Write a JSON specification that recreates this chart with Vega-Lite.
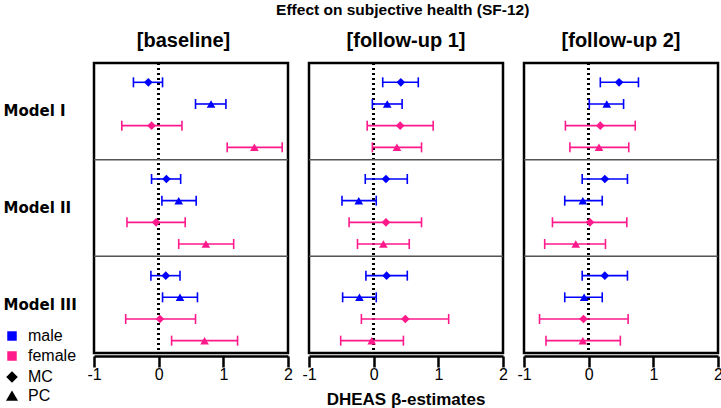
{
  "$schema": "https://vega.github.io/schema/vega-lite/v6.json",
  "padding": {"left": 3, "top": 2, "right": 2, "bottom": 0},
  "background": "white",
  "title": {
    "text": "Effect on subjective health (SF-12)",
    "font": "Liberation Sans",
    "fontSize": 15.5,
    "fontWeight": "bold",
    "color": "black",
    "anchor": "middle",
    "dx": 40,
    "offset": 13
  },
  "data": {
    "values": [
      {"time": "[baseline]", "model": "Model I", "series": "male MC", "sex": "male", "type": "MC", "est": -0.16, "lo": -0.39, "hi": 0.06},
      {"time": "[baseline]", "model": "Model I", "series": "male PC", "sex": "male", "type": "PC", "est": 0.81, "lo": 0.57, "hi": 1.04},
      {"time": "[baseline]", "model": "Model I", "series": "female MC", "sex": "female", "type": "MC", "est": -0.11, "lo": -0.57, "hi": 0.36},
      {"time": "[baseline]", "model": "Model I", "series": "female PC", "sex": "female", "type": "PC", "est": 1.48, "lo": 1.06, "hi": 1.91},
      {"time": "[baseline]", "model": "Model II", "series": "male MC", "sex": "male", "type": "MC", "est": 0.12, "lo": -0.11, "hi": 0.34},
      {"time": "[baseline]", "model": "Model II", "series": "male PC", "sex": "male", "type": "PC", "est": 0.31, "lo": 0.05, "hi": 0.58},
      {"time": "[baseline]", "model": "Model II", "series": "female MC", "sex": "female", "type": "MC", "est": -0.04, "lo": -0.49, "hi": 0.41},
      {"time": "[baseline]", "model": "Model II", "series": "female PC", "sex": "female", "type": "PC", "est": 0.73, "lo": 0.31, "hi": 1.16},
      {"time": "[baseline]", "model": "Model III", "series": "male MC", "sex": "male", "type": "MC", "est": 0.11, "lo": -0.12, "hi": 0.33},
      {"time": "[baseline]", "model": "Model III", "series": "male PC", "sex": "male", "type": "PC", "est": 0.33, "lo": 0.06, "hi": 0.6},
      {"time": "[baseline]", "model": "Model III", "series": "female MC", "sex": "female", "type": "MC", "est": 0.02, "lo": -0.51, "hi": 0.57},
      {"time": "[baseline]", "model": "Model III", "series": "female PC", "sex": "female", "type": "PC", "est": 0.71, "lo": 0.2, "hi": 1.22},

      {"time": "[follow-up 1]", "model": "Model I", "series": "male MC", "sex": "male", "type": "MC", "est": 0.42, "lo": 0.14, "hi": 0.69},
      {"time": "[follow-up 1]", "model": "Model I", "series": "male PC", "sex": "male", "type": "PC", "est": 0.21, "lo": -0.02, "hi": 0.44},
      {"time": "[follow-up 1]", "model": "Model I", "series": "female MC", "sex": "female", "type": "MC", "est": 0.41, "lo": -0.1, "hi": 0.92},
      {"time": "[follow-up 1]", "model": "Model I", "series": "female PC", "sex": "female", "type": "PC", "est": 0.36, "lo": -0.02, "hi": 0.74},
      {"time": "[follow-up 1]", "model": "Model II", "series": "male MC", "sex": "male", "type": "MC", "est": 0.19, "lo": -0.13, "hi": 0.52},
      {"time": "[follow-up 1]", "model": "Model II", "series": "male PC", "sex": "male", "type": "PC", "est": -0.23, "lo": -0.49, "hi": 0.04},
      {"time": "[follow-up 1]", "model": "Model II", "series": "female MC", "sex": "female", "type": "MC", "est": 0.19, "lo": -0.38, "hi": 0.74},
      {"time": "[follow-up 1]", "model": "Model II", "series": "female PC", "sex": "female", "type": "PC", "est": 0.15, "lo": -0.25, "hi": 0.55},
      {"time": "[follow-up 1]", "model": "Model III", "series": "male MC", "sex": "male", "type": "MC", "est": 0.2, "lo": -0.12, "hi": 0.52},
      {"time": "[follow-up 1]", "model": "Model III", "series": "male PC", "sex": "male", "type": "PC", "est": -0.22, "lo": -0.48, "hi": 0.04},
      {"time": "[follow-up 1]", "model": "Model III", "series": "female MC", "sex": "female", "type": "MC", "est": 0.49, "lo": -0.19, "hi": 1.16},
      {"time": "[follow-up 1]", "model": "Model III", "series": "female PC", "sex": "female", "type": "PC", "est": -0.03, "lo": -0.51, "hi": 0.46},

      {"time": "[follow-up 2]", "model": "Model I", "series": "male MC", "sex": "male", "type": "MC", "est": 0.47, "lo": 0.18, "hi": 0.77},
      {"time": "[follow-up 2]", "model": "Model I", "series": "male PC", "sex": "male", "type": "PC", "est": 0.28, "lo": 0.01, "hi": 0.54},
      {"time": "[follow-up 2]", "model": "Model I", "series": "female MC", "sex": "female", "type": "MC", "est": 0.18, "lo": -0.36, "hi": 0.72},
      {"time": "[follow-up 2]", "model": "Model I", "series": "female PC", "sex": "female", "type": "PC", "est": 0.16, "lo": -0.29, "hi": 0.62},
      {"time": "[follow-up 2]", "model": "Model II", "series": "male MC", "sex": "male", "type": "MC", "est": 0.25, "lo": -0.1, "hi": 0.6},
      {"time": "[follow-up 2]", "model": "Model II", "series": "male PC", "sex": "male", "type": "PC", "est": -0.09, "lo": -0.37, "hi": 0.21},
      {"time": "[follow-up 2]", "model": "Model II", "series": "female MC", "sex": "female", "type": "MC", "est": 0.02, "lo": -0.56, "hi": 0.59},
      {"time": "[follow-up 2]", "model": "Model II", "series": "female PC", "sex": "female", "type": "PC", "est": -0.2, "lo": -0.68, "hi": 0.26},
      {"time": "[follow-up 2]", "model": "Model III", "series": "male MC", "sex": "male", "type": "MC", "est": 0.25, "lo": -0.1, "hi": 0.6},
      {"time": "[follow-up 2]", "model": "Model III", "series": "male PC", "sex": "male", "type": "PC", "est": -0.07, "lo": -0.37, "hi": 0.21},
      {"time": "[follow-up 2]", "model": "Model III", "series": "female MC", "sex": "female", "type": "MC", "est": -0.08, "lo": -0.76, "hi": 0.61},
      {"time": "[follow-up 2]", "model": "Model III", "series": "female PC", "sex": "female", "type": "PC", "est": -0.09, "lo": -0.66, "hi": 0.49}
    ]
  },
  "facet": {
    "column": {
      "field": "time",
      "type": "nominal",
      "sort": ["[baseline]", "[follow-up 1]", "[follow-up 2]"],
      "title": "DHEAS β-estimates",
      "header": {
        "labelOrient": "top",
        "titleOrient": "bottom",
        "labelExpr": "(datum.label) === '[baseline]' ? '[baseline]\u2800' : (datum.label)",
        "labelFont": "Liberation Sans",
        "labelFontSize": 20,
        "labelFontWeight": "bold",
        "labelColor": "black",
        "labelPadding": 9,
        "titleFont": "Liberation Sans",
        "titleFontSize": 17,
        "titleFontWeight": "bold",
        "titleColor": "black",
        "titlePadding": 0
      }
    }
  },
  "spacing": {"column": 17},
  "spec": {
    "width": 194,
    "height": 290,
    "layer": [
      {
        "mark": {"type": "rule", "color": "black", "strokeWidth": 2, "strokeDash": [2, 3]},
        "encoding": {"x": {"datum": 0, "type": "quantitative"}}
      },
      {
        "transform": [{"filter": "datum.model !== 'Model I'"}],
        "mark": {"type": "rule", "color": "#555555", "strokeWidth": 1},
        "encoding": {
          "y": {"field": "model", "type": "nominal", "bandPosition": 0, "sort": ["Model I", "Model II", "Model III"]}
        }
      },
      {
        "mark": {"type": "rule", "strokeWidth": 1.6},
        "encoding": {
          "x": {"field": "lo", "type": "quantitative"},
          "x2": {"field": "hi"},
          "y": {"field": "model", "type": "nominal", "sort": ["Model I", "Model II", "Model III"]},
          "yOffset": {"field": "series", "type": "nominal", "sort": ["male MC", "male PC", "female MC", "female PC"]},
          "stroke": {"field": "sex", "type": "nominal", "scale": {"range": ["#ff1a8c", "#0000ff"]}, "legend": null}
        }
      },
      {
        "mark": {"type": "tick", "orient": "vertical", "size": 10, "thickness": 1.6, "opacity": 1},
        "encoding": {
          "x": {"field": "lo", "type": "quantitative"},
          "y": {"field": "model", "type": "nominal", "sort": ["Model I", "Model II", "Model III"]},
          "yOffset": {"field": "series", "type": "nominal", "sort": ["male MC", "male PC", "female MC", "female PC"]},
          "fill": {"field": "sex", "type": "nominal", "scale": {"range": ["#ff1a8c", "#0000ff"]}, "legend": null}
        }
      },
      {
        "mark": {"type": "tick", "orient": "vertical", "size": 10, "thickness": 1.6, "opacity": 1},
        "encoding": {
          "x": {"field": "hi", "type": "quantitative"},
          "y": {"field": "model", "type": "nominal", "sort": ["Model I", "Model II", "Model III"]},
          "yOffset": {"field": "series", "type": "nominal", "sort": ["male MC", "male PC", "female MC", "female PC"]},
          "fill": {"field": "sex", "type": "nominal", "legend": null}
        }
      },
      {
        "mark": {"type": "point", "filled": true, "size": 75, "opacity": 1},
        "encoding": {
          "x": {
            "field": "est",
            "type": "quantitative",
            "scale": {"domain": [-1, 2], "nice": false, "zero": false},
            "axis": {
              "title": null,
              "values": [-1, -0.5, 0, 0.5, 1, 1.5, 2],
              "labelExpr": "datum.value % 1 === 0 ? (datum.value < 0 ? '-' + abs(datum.value) : '' + datum.value) : ''",
              "tickSize": {"condition": {"test": "datum.value % 1 === 0", "value": 11}, "value": 6},
              "tickWidth": 2.5,
              "tickColor": "black",
              "domainColor": "black",
              "domainWidth": 2.5,
              "labelFont": "Liberation Sans",
              "labelFontSize": 16,
              "labelColor": "black",
              "labelPadding": -1,
              "labelFlush": false,
              "labelOverlap": false,
              "grid": false
            }
          },
          "y": {
            "field": "model",
            "type": "nominal",
            "sort": ["Model I", "Model II", "Model III"],
            "scale": {"paddingInner": 0, "paddingOuter": 0},
            "axis": {
              "title": null,
              "ticks": false,
              "domain": false,
              "grid": false,
              "labelAlign": "left",
              "labelPadding": 89,
              "labelFont": "DejaVu Sans",
              "labelFontSize": 15,
              "labelFontWeight": "bold",
              "labelColor": "black"
            }
          },
          "yOffset": {
            "field": "series",
            "type": "nominal",
            "sort": ["male MC", "male PC", "female MC", "female PC"],
            "scale": {"paddingInner": 0, "paddingOuter": 0.23, "align": 0.85}
          },
          "color": {
            "field": "sex",
            "type": "nominal",
            "scale": {"domain": ["male", "female"], "range": ["#0000ff", "#ff1a8c"]},
            "legend": {
              "title": null,
              "orient": "none",
              "legendX": -90,
              "legendY": 265,
              "symbolType": "square",
              "symbolSize": 90,
              "symbolStrokeWidth": 0,
              "symbolOpacity": 1,
              "labelFont": "Liberation Sans",
              "labelFontSize": 16,
              "labelColor": "black",
              "labelOffset": 8,
              "rowPadding": 4
            }
          },
          "shape": {
            "field": "type",
            "type": "nominal",
            "scale": {"domain": ["MC", "PC"], "range": ["diamond", "triangle-up"]},
            "legend": {
              "title": null,
              "orient": "none",
              "legendX": -90,
              "legendY": 306,
              "symbolSize": 90,
              "symbolFillColor": "black",
              "symbolStrokeColor": "black",
              "symbolOpacity": 1,
              "labelFont": "Liberation Sans",
              "labelFontSize": 16,
              "labelColor": "black",
              "labelOffset": 8,
              "rowPadding": 3
            }
          }
        }
      }
    ]
  },
  "config": {
    "view": {"stroke": "black", "strokeWidth": 2.5, "fill": "white"},
    "axis": {"labelFont": "Liberation Sans"}
  }
}
